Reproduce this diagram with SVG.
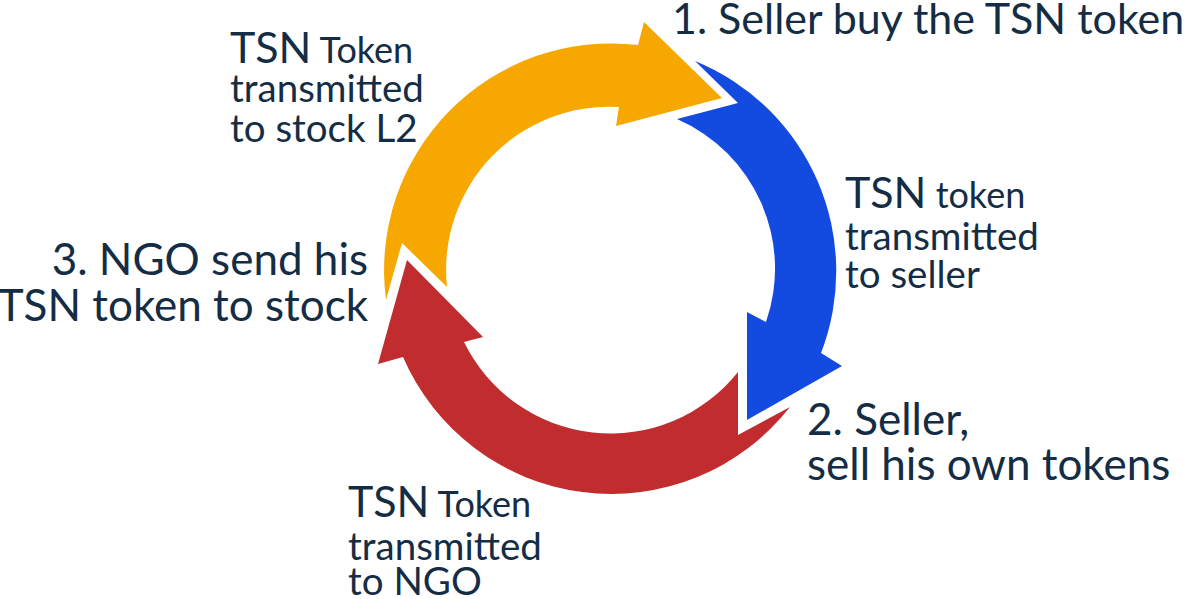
<svg xmlns="http://www.w3.org/2000/svg" width="1200" height="599" viewBox="0 0 1200 599">
<style>
.t{font-family:Lato,"Liberation Sans",sans-serif;fill:#142d45;}
.big{font-size:43px;}
.big2{font-size:44px;}
.mid{font-size:38.5px;}
.sm{font-size:36px;}
</style>
<rect width="1200" height="599" fill="#fff"/>
<g id="connectors">
<path id="orange" fill="#f7a800" d="M386,300 L402,243 L447,287 A163,163 0 0 1 619,107 L616,126 L722,98 L644,22 L638,45 A227,227 0 0 0 386,300 Z"/>
<path id="blue" fill="#134ae0" d="M695,61 A227,227 0 0 1 821,353 L842,366 L747,420 L747,312 L766,322 A163,163 0 0 0 677,119 L738,103 Z"/>
<path id="red" fill="#c12d2f" d="M790,407 A227,227 0 0 1 403,357 L378,364 L407,260 L483,337 L464,342 A163,163 0 0 0 738,372 L738,435 Z"/>
</g>
<g id="n1"><text class="t big" x="672" y="34">1. Seller buy the TSN token</text></g>
<g id="n2"><text class="t big2" x="807" y="435">2. Seller,</text><text class="t big2" x="807" y="480">sell his own tokens</text></g>
<g id="n3"><text class="t big2" x="368" y="275" text-anchor="end">3. NGO send his</text><text class="t big2" x="368" y="321" text-anchor="end">TSN token to stock</text></g>
<g id="e1"><text class="t" x="230" y="63"><tspan class="big">TSN</tspan><tspan class="sm"> Token</tspan></text><text class="t mid" x="230" y="102">transmitted</text><text class="t mid" x="230" y="142">to stock L2</text></g>
<g id="e2"><text class="t" x="845" y="208"><tspan class="big">TSN</tspan><tspan class="sm"> token</tspan></text><text class="t mid" x="845" y="250">transmitted</text><text class="t mid" x="845" y="288">to seller</text></g>
<g id="e3"><text class="t" x="348" y="517"><tspan class="big">TSN</tspan><tspan class="sm"> Token</tspan></text><text class="t mid" x="348" y="560">transmitted</text><text class="t mid" x="348" y="595">to NGO</text></g>
</svg>
